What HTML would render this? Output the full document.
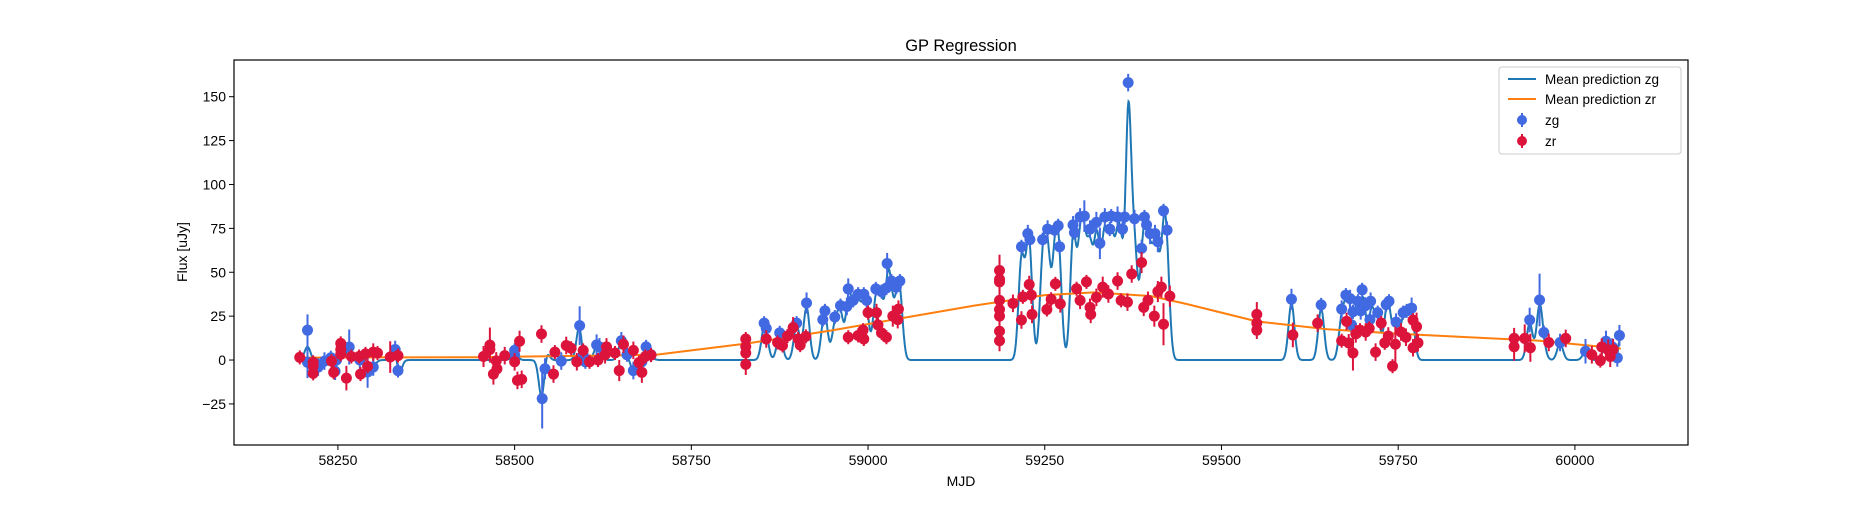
<!DOCTYPE html>
<html><head><meta charset="utf-8"><style>
body{margin:0;background:#fff;}
svg text{font-family:"Liberation Sans","DejaVu Sans",sans-serif;fill:#000;}
</style></head><body>
<svg id="chart" width="1875" height="500" xmlns="http://www.w3.org/2000/svg">
<rect x="0" y="0" width="1875" height="500" fill="#fff"/>
<text x="961" y="51" font-size="16.5" text-anchor="middle">GP Regression</text>
<text x="961" y="486" font-size="14" text-anchor="middle">MJD</text>
<text x="187" y="252" font-size="14" text-anchor="middle" transform="rotate(-90 187 252)">Flux [uJy]</text>
<g id="plot"></g>
<rect x="234" y="60" width="1454" height="385" fill="none" stroke="#000" stroke-width="1.2"/>
<g>
<rect x="1499" y="67" width="182" height="87" rx="3" fill="#fff" fill-opacity="0.8" stroke="#ccc"/>
<g><line x1="1508" y1="79" x2="1536" y2="79" stroke="#1f77b4" stroke-width="2"/><text x="1545" y="84" font-size="13.5">Mean prediction zg</text></g>
<g><line x1="1508" y1="99" x2="1536" y2="99" stroke="#ff7f0e" stroke-width="2"/><text x="1545" y="104" font-size="13.5">Mean prediction zr</text></g>
<g><line x1="1522" y1="113" x2="1522" y2="127" stroke="#4169e1" stroke-width="2"/><circle cx="1522" cy="120" r="5" fill="#4169e1"/><text x="1545" y="125" font-size="13.5">zg</text></g>
<g><line x1="1522" y1="134" x2="1522" y2="148" stroke="#dc143c" stroke-width="2"/><circle cx="1522" cy="141" r="5" fill="#dc143c"/><text x="1545" y="146" font-size="13.5">zr</text></g>
</g>
</svg>
<script>
const xTicks=[58250,58500,58750,59000,59250,59500,59750,60000];
const yTicks=[-25,0,25,50,75,100,125,150];
const zgMjd=[58207,58207,58222,58231,58240,58246,58248,58266,58281,58292,58300,58331,58335,58500,58500,58539,58543,58566,58592,58597,58600,58616,58620,58651,58659,58668,58680,58686,58693,58853,58856,58875,58899,58913,58936,58939,58953,58961,58970,58972,58979,58986,58994,58998,59011,59019,59026,59027,59033,59040,59045,59217,59226,59229,59247,59254,59264,59269,59271,59290,59292,59300,59306,59314,59323,59328,59335,59342,59344,59353,59360,59363,59368,59377,59387,59391,59394,59399,59406,59410,59418,59423,59599,59641,59670,59676,59682,59684,59686,59693,59697,59699,59703,59710,59711,59721,59733,59737,59747,59757,59762,59769,59936,59950,59956,59979,60015,60044,60053,60060,60063];
const zgFlux=[17,-1.3,-4,-0.6,1.3,-6.4,0,7.4,0,-6.8,-4,6,-6,2.8,5.5,-22,-5,-0.6,19.6,2.8,-1,8.6,7.5,11,3,-6,-1,7.5,3,21,18,15.5,21,32.5,23,28,24.5,31,30.5,40.5,34,37.5,37.5,34,40.5,39,41,55,45,41.5,45,64.5,72,68.6,68.6,74.6,74,76.5,64.5,77,72.6,81.5,82,74.6,78.4,66.5,81.5,74.6,82,81.5,74.6,81.5,158,80.5,63.6,81.5,77,72,72,67.4,85,74,34.6,31.4,29,37,35,20,27.5,33.5,28,40,30.8,23,33.5,27,31.6,33.5,21.6,27,28,29.6,22.8,34.2,15.7,10,5,10.7,7.4,1.2,14];
const zgErr=[9,9,5,5,4,5,4,10,5,9,5,5,4,4,4,17,6,5,11,5,4,6,5,5,4,5,4,4,4,4,4,4,4,6,4,4,4,4,5,6,4,4,4,4,4,4,4,6,4,4,4,4,5,4,4,5,4,4,4,5,4,5,9,5,6,9,5,4,4,6,4,4,5,5,5,4,5,6,5,6,4,5,6,4,5,4,5,5,4,4,5,4,5,4,5,4,4,4,5,4,4,6,7,15,4,5,7,6,5,5,6];
const zrMjd=[58196,58215,58215,58215,58241,58244,58254,58254,58254,58262,58269,58280,58282,58289,58292,58300,58306,58324,58335,58456,58465,58465,58470,58474,58475,58486,58500,58504,58507,58510,58538,58555,58557,58573,58580,58588,58597,58606,58618,58628,58630,58642,58648,58654,58668,58676,58680,58685,58693,58827,58827,58827,58827,58856,58872,58879,58886,58894,58901,58904,58912,58972,58986,58993,58994,59000,59012,59014,59019,59026,59035,59042,59043,59186,59186,59186,59186,59186,59186,59186,59186,59205,59217,59219,59228,59231,59232,59253,59259,59265,59272,59295,59300,59309,59314,59315,59323,59332,59340,59353,59358,59367,59373,59387,59390,59396,59405,59410,59415,59418,59427,59550,59550,59550,59601,59636,59670,59677,59680,59686,59690,59696,59704,59709,59718,59726,59731,59736,59742,59746,59754,59761,59771,59771,59776,59778,59914,59914,59929,59937,59963,59987,60024,60036,60038,60047,60050,60054];
const zrFlux=[1.5,-1.3,-7.6,-3.4,-0.6,-7,9.5,6,3.2,-10.3,2,2,-8,3.5,-3.6,4.5,4,1.7,2.5,2,8.5,6,-8,-0.5,-5,2.5,-1,-11.6,10.7,-11,14.8,-8,4.5,8.3,6.7,-1,5.5,-1,0,3,7.5,4,-6,9,5.5,-1.4,-7,2,2.8,12,7.6,4,-2.5,12,10,8.3,13.7,18.5,12,8.5,13.5,13,14,17,12,27,27,20,15.5,13,25,23,29,51,46,44.5,34,28.8,25,16.4,11,32.3,22.8,36,43,37,26,28.8,34.6,43.4,32,40.6,34,44.5,30,26,35.7,41.5,37.6,45,34,33,49,55.5,30,34,25,39,41.5,20.4,36.4,26,21,17,14.3,21,11,22,9.8,4,14.9,17,16,18,4.5,21,9.8,13.7,-3.5,9,16,13,22.7,7,19,9.8,12.3,7.6,12.3,7,10,12.3,3,-0.3,7.4,5.7,2,6];
const zrErr=[4,4,4,4,4,4,4,4,4,7,4,4,4,4,4,5,4,9,4,6,10,6,6,5,5,5,5,5,6,5,5,5,4,5,4,5,4,4,4,5,5,4,6,5,5,4,6,4,4,4,4,4,6,5,4,4,4,6,4,4,4,4,4,4,4,4,5,5,4,4,6,5,5,9,6,6,6,6,6,6,6,5,5,4,5,5,5,4,4,4,5,4,5,4,5,5,5,6,5,5,4,5,5,6,5,5,6,6,6,12,6,7,5,5,7,5,4,5,5,10,5,4,5,4,5,4,4,5,4,10,5,5,4,5,8,5,6,8,8,8,5,5,5,4,5,6,6,6,5];
const zrMeanMjd=[58196,58450,58700,58830,58950,59050,59150,59250,59320,59400,59450,59550,59650,59750,59850,59950,60065];
const zrMeanFlux=[1.4,1.6,3,9.5,17,24,31,37,38.5,36.5,32,22,17.5,15,13,11,6.5];

const X0=58103,X1=60160,Y0=-48.4,Y1=170.9,PL=234,PR=1688,PT=60,PB=445;
const sx=v=>PL+(v-X0)/(X1-X0)*(PR-PL);
const sy=v=>PB-(v-Y0)/(Y1-Y0)*(PB-PT);
const NS="http://www.w3.org/2000/svg";
const plot=document.getElementById('plot');
const svg=document.getElementById('chart');
function mk(tag,attrs,parent){const e=document.createElementNS(NS,tag);for(const k in attrs)e.setAttribute(k,attrs[k]);(parent||plot).appendChild(e);return e;}

xTicks.forEach(t=>{
  const g=mk('g',{},svg);
  
  
  mk('line',{x1:sx(t),x2:sx(t),y1:PB,y2:PB+5,stroke:'#000','stroke-width':1},g);
  const tx=mk('text',{x:sx(t),y:PB+20,'font-size':14,'text-anchor':'middle'},g);tx.textContent=t;
});
yTicks.forEach(t=>{
  const g=mk('g',{},svg);
  
  
  mk('line',{x1:PL-5,x2:PL,y1:sy(t),y2:sy(t),stroke:'#000','stroke-width':1},g);
  const tx=mk('text',{x:PL-8,y:sy(t)+5,'font-size':14,'text-anchor':'end'},g);tx.textContent=(t<0?'\u2212'+(-t):t);
});

// Zero-mean GP regression (RBF kernel) for zg
const ELL=4.2, NOISE=0.08;
const n=zgMjd.length;
const kf=(a,b)=>{const d=(a-b)/ELL;return Math.exp(-0.5*d*d);};
const A=[];for(let i=0;i<n;i++){A.push([]);for(let j=0;j<n;j++)A[i].push(kf(zgMjd[i],zgMjd[j])+(i===j?NOISE:0));}
const b=zgFlux.slice();
for(let c=0;c<n;c++){let p=c;for(let r=c+1;r<n;r++)if(Math.abs(A[r][c])>Math.abs(A[p][c]))p=r;[A[c],A[p]]=[A[p],A[c]];[b[c],b[p]]=[b[p],b[c]];
  for(let r=c+1;r<n;r++){const f=A[r][c]/A[c][c];if(!f)continue;for(let k=c;k<n;k++)A[r][k]-=f*A[c][k];b[r]-=f*b[c];}}
const alpha=new Array(n).fill(0);
for(let i=n-1;i>=0;i--){let s=b[i];for(let k=i+1;k<n;k++)s-=A[i][k]*alpha[k];alpha[i]=s/A[i][i];}
function gpMean(x){let s=0;for(let i=0;i<n;i++)s+=alpha[i]*kf(x,zgMjd[i]);return s;}
const xs0=Math.min(...zgMjd,...zrMjd), xs1=Math.max(...zgMjd,...zrMjd);
let dB='';for(let x=xs0;x<=xs1;x+=0.5){dB+=(x===xs0?'M':'L')+sx(x).toFixed(1)+','+sy(gpMean(x)).toFixed(1);}
const lb=mk('path',{d:dB,fill:'none',stroke:'#1f77b4','stroke-width':2});


let dO='';zrMeanMjd.forEach((m,i)=>{dO+=(i?'L':'M')+sx(m).toFixed(1)+','+sy(zrMeanFlux[i]).toFixed(1);});
const lo=mk('path',{d:dO,fill:'none',stroke:'#ff7f0e','stroke-width':2,'stroke-linejoin':'round'});



function points(mj,fl,er,col,name){
  const g=mk('g',{});
  
  
  mj.forEach((m,i)=>{
    const e=mk('line',{x1:sx(m),x2:sx(m),y1:sy(fl[i]-er[i]),y2:sy(fl[i]+er[i]),stroke:col,'stroke-width':2},g);
    
    
    const c=mk('circle',{cx:sx(m),cy:sy(fl[i]),r:5.5,fill:col},g);
    
    
  });
}
points(zgMjd,zgFlux,zgErr,'#4169e1','zg');
points(zrMjd,zrFlux,zrErr,'#dc143c','zr');
</script>
</body></html>
